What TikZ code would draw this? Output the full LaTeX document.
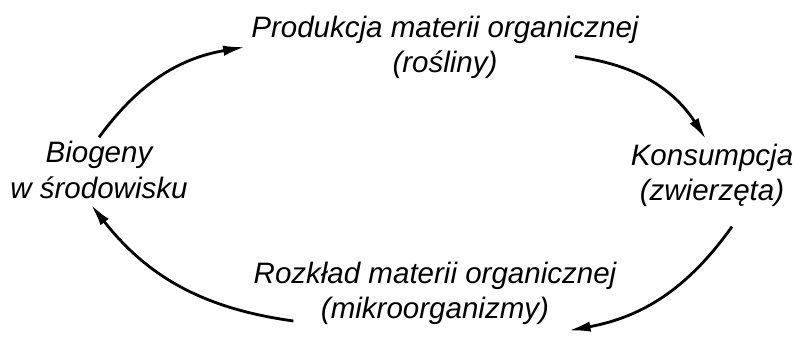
\documentclass[tikz,border=0pt]{standalone}
\usepackage{fontspec}
\setmainfont{Liberation Sans}
\usepackage{tikz}
\usetikzlibrary{%
        arrows.meta,
        positioning,
    }
\tikzset{%
    stage/.style={%
        align=center,
        inner sep=0pt,
        font=\fontsize{21}{25}\selectfont\itshape,
    },
    cyclearrow/.style={%
        line width=2pt,
        -{Latex[length=5.5mm, width=2.6mm]},
    },
}

\begin{document}
\begin{tikzpicture}

    \useasboundingbox (0, 0) rectangle (20, 8.875);

    %%%%%%%%%%
    % Stages %
    %%%%%%%%%%
    \node[stage] (prod) at (11.125, 7.7) {%
        Produkcja materii organicznej\\
        (rośliny)
    };
    \node[stage] (kons) at (17.8, 4.5) {%
        Konsumpcja\\
        (zwierzęta)
    };
    \node[stage] (rozk) at (10.875, 1.55) {%
        Rozkład materii organicznej\\
        (mikroorganizmy)
    };
    \node[stage] (bio) at (2.475, 4.625) {%
        Biogeny\\
        w środowisku
    };

    %%%%%%%%%%
    % Arrows %
    %%%%%%%%%%
    \draw[cyclearrow]
        ([xshift=0mm, yshift=1mm] bio.north)
        to[bend left=22] ([xshift=-1.5mm] prod.west);
    \draw[cyclearrow]
        ([xshift=-16mm, yshift=5.5mm] prod.south east)
        to[bend left=25] ([xshift=-1.5mm, yshift=1mm] kons.north);
    \draw[cyclearrow]
        ([xshift=5mm, yshift=-5mm] kons.south)
        to[bend left=22] ([xshift=-12mm, yshift=-1.5mm] rozk.south east);
    \draw[cyclearrow]
        ([xshift=10mm, yshift=-7mm] rozk.west)
        to[bend left=22] ([xshift=-2mm, yshift=-1.5mm] bio.south);

\end{tikzpicture}
\end{document}
